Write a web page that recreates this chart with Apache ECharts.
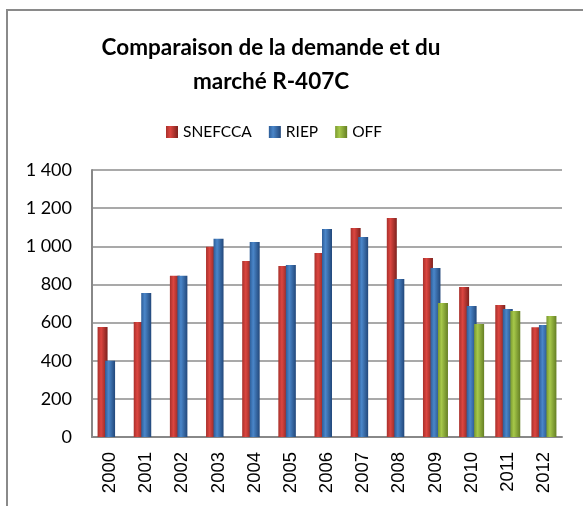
<!DOCTYPE html>
<html>
<head>
<meta charset="utf-8">
<script src="https://cdn.jsdelivr.net/npm/echarts@6/dist/echarts.min.js"></script>
<style>
  html, body { margin: 0; padding: 0; background: #fff; }
  #chart { width: 583px; height: 506px; }
</style>
</head>
<body>
<div id="chart"></div>
<script>
var years = ['2000', '2001', '2002', '2003', '2004', '2005', '2006', '2007', '2008', '2009', '2010', '2011', '2012'];
var snefcca = [577, 603, 845, 998, 923, 897, 965, 1096, 1148, 939, 787, 692, 575];
var riep = [400, 755, 845, 1040, 1022, 902, 1091, 1049, 829, 886, 687, 671, 587];
var off = [null, null, null, null, null, null, null, null, null, 703, 593, 661, 634];

function cyl(dark, light, darker) {
    return new echarts.graphic.LinearGradient(0, 0, 1, 0, [
        {offset: 0, color: dark},
        {offset: 0.35, color: light},
        {offset: 1, color: darker}
    ]);
}

var font = 'Lato, "Liberation Sans", sans-serif';

var option = {
    animation: false,
    title: {
        text: 'Comparaison de la demande et du\nmarché R-407C',
        left: 266,
        textAlign: 'center',
        top: 26,
        textStyle: {fontSize: 22.5, fontWeight: 'bold', color: '#000', fontFamily: font, lineHeight: 34}
    },
    legend: {
        top: 119,
        left: 161,
        itemWidth: 12,
        itemHeight: 12,
        itemGap: 17,
        icon: 'rect',
        textStyle: {fontSize: 15.5, color: '#000', fontFamily: font},
        data: ['SNEFCCA', 'RIEP', 'OFF']
    },
    grid: {left: 92, right: 21, top: 170, bottom: 69},
    xAxis: {
        type: 'category',
        data: years,
        axisTick: {show: false},
        axisLine: {lineStyle: {color: '#888', width: 2}},
        axisLabel: {rotate: 90, margin: 15, fontSize: 18.5, color: '#000', fontFamily: '"Liberation Sans", Arial, sans-serif'}
    },
    yAxis: {
        type: 'value',
        min: 0,
        max: 1400,
        interval: 200,
        axisLine: {show: true, lineStyle: {color: '#888', width: 2}},
        axisTick: {show: false},
        splitLine: {lineStyle: {color: '#8c8c8c', width: 1.5}},
        axisLabel: {
            margin: 20,
            fontSize: 18,
            color: '#000',
            fontFamily: font,
            formatter: function (v) {
                return v >= 1000 ? Math.floor(v / 1000) + ' ' + String(v % 1000).padStart(3, '0') : String(v);
            }
        }
    },
    graphic: [{
        type: 'rect',
        shape: {x: 7, y: 10, width: 620, height: 560},
        style: {fill: 'none', stroke: '#8a8a8a', lineWidth: 2},
        silent: true
    }],
    series: [
        {
            name: 'SNEFCCA', type: 'bar', data: snefcca,
            barWidth: 10, barGap: '-25%',
            itemStyle: {color: cyl('#a8302b', '#dc4640', '#7e211d')}
        },
        {
            name: 'RIEP', type: 'bar', data: riep,
            barWidth: 10, barGap: '-25%',
            itemStyle: {color: cyl('#2d5d98', '#4a86c9', '#22477a')}
        },
        {
            name: 'OFF', type: 'bar', data: off,
            barWidth: 10, barGap: '-25%',
            itemStyle: {color: cyl('#7a992f', '#a6c84a', '#657f24')}
        }
    ]
};

var myChart = echarts.init(document.getElementById('chart'));
myChart.setOption(option);
</script>
</body>
</html>
